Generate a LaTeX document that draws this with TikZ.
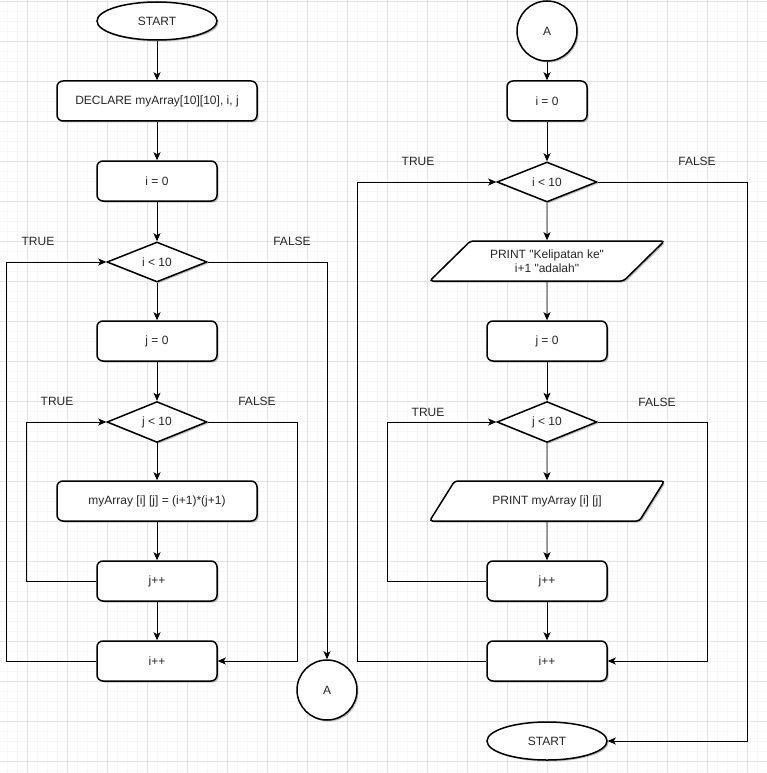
\documentclass[tikz,border=0pt]{standalone}
\usepackage{fontspec}
\setmainfont{Liberation Sans}[Ligatures=TeXOff]
\usetikzlibrary{shapes.geometric,arrows.meta,shadows}
\begin{document}
\begin{tikzpicture}[x=1pt,y=-1pt,
  fs/.style={font=\fontsize{12}{14}\selectfont, text=black!85},
  shad/.style={drop shadow={shadow xshift=1.5pt,shadow yshift=-1.5pt,opacity=0.25,fill=black}},
  box/.style={draw, line width=1.5pt, rounded corners=6pt, fill=white, minimum width=120, minimum height=40, inner sep=0pt, shad, fs},
  term/.style={ellipse, draw, line width=1.5pt, fill=white, minimum width=120, minimum height=38, inner sep=0pt, shad, fs},
  cond/.style={diamond, draw, line width=1.5pt, fill=white, minimum width=100, minimum height=40, inner sep=0pt, shad, fs},
  conn/.style={circle, draw, line width=1.5pt, fill=white, minimum size=60, inner sep=0pt, shad, fs},
  para/.style={trapezium, trapezium left angle=37, trapezium right angle=143, trapezium stretches=true, draw, line width=1.5pt, rounded corners=3pt, fill=white, minimum width=235, minimum height=40, inner sep=0pt, align=center, shad, fs},
  lbl/.style={fs, inner sep=0pt},
  arr/.style={draw, line width=0.9pt, -{Stealth[length=8pt,width=7pt,inset=2pt]}},
  minorgrid/.style={draw=black!3, line width=0.6pt},
  majorgrid/.style={draw=black!11, line width=0.6pt}
]
% background and grid
\useasboundingbox (0,0) rectangle (767,773);
\fill[white] (0,0) rectangle (767,773);
\foreach \x in {7,17,...,767} \draw[minorgrid] (\x,0) -- (\x,773);
\foreach \y in {1,11,...,771} \draw[minorgrid] (0,\y) -- (767,\y);
\foreach \x in {27,67,...,767} \draw[majorgrid] (\x,0) -- (\x,773);
\foreach \y in {1,41,...,771} \draw[majorgrid] (0,\y) -- (767,\y);

% left flow
\node[term] (s1) at (157,21) {START};
\node[box, minimum width=200] (dec) at (157,101) {DECLARE myArray[10][10], i, j};
\node[box] (i0) at (157,181) {i = 0};
\node[cond] (id) at (157,262) {i < 10};
\node[box] (j0) at (157,341) {j = 0};
\node[cond] (jd) at (157,422) {j < 10};
\node[box, minimum width=200] (asg) at (157,501) {myArray [i] [j] = (i+1)*(j+1)};
\node[box] (jpp) at (157,581) {j++};
\node[box] (ipp) at (157,661) {i++};
\node[conn] (a1) at (327,690) {A};

\node[lbl] (t1) at (38,241) {TRUE};
\node[lbl] (f1) at (292,241) {FALSE};
\node[lbl] (t2) at (57,401) {TRUE};
\node[lbl] (f2) at (257,401) {FALSE};

\draw[arr] (s1.south) -- (dec.north);
\draw[arr] (dec.south) -- (i0.north);
\draw[arr] (i0.south) -- (id.north);
\draw[arr] (id.south) -- (j0.north);
\draw[arr] (j0.south) -- (jd.north);
\draw[arr] (jd.south) -- (asg.north);
\draw[arr] (asg.south) -- (jpp.north);
\draw[arr] (jpp.south) -- (ipp.north);
\draw[arr] (jpp.west) -- ++(-70,0) |- (jd.west);
\draw[arr] (jd.east) -- ++(90,0) |- (ipp.east);
\draw[arr] (ipp.west) -- ++(-90,0) |- (id.west);
\draw[arr] (id.east) -| (a1.north);

% right flow
\node[conn] (a2) at (547,31) {A};
\node[box, minimum width=80] (ri0) at (547,101) {i = 0};
\node[cond] (rid) at (547,182) {i < 10};
\node[para] (p1) at (547,261) {PRINT "Kelipatan ke"\\ i+1 "adalah"};
\node[box] (rj0) at (547,341) {j = 0};
\node[cond] (rjd) at (547,422) {j < 10};
\node[para] (p2) at (547,501) {PRINT myArray [i] [j]};
\node[box] (rjpp) at (547,581) {j++};
\node[box] (ripp) at (547,661) {i++};
\node[term] (s2) at (547,741) {START};

\node[lbl] (t3) at (418,161) {TRUE};
\node[lbl] (f3) at (697,161) {FALSE};
\node[lbl] (t4) at (428,412) {TRUE};
\node[lbl] (f4) at (657,402) {FALSE};

\draw[arr] (a2.south) -- (ri0.north);
\draw[arr] (ri0.south) -- (rid.north);
\draw[arr] (rid.south) -- (p1.north);
\draw[arr] (p1.south) -- (rj0.north);
\draw[arr] (rj0.south) -- (rjd.north);
\draw[arr] (rjd.south) -- (p2.north);
\draw[arr] (p2.south) -- (rjpp.north);
\draw[arr] (rjpp.south) -- (ripp.north);
\draw[arr] (rjpp.west) -- ++(-99,0) |- (rjd.west);
\draw[arr] (rjd.east) -- ++(110,0) |- (ripp.east);
\draw[arr] (ripp.west) -- ++(-129,0) |- (rid.west);
\draw[arr] (rid.east) -- ++(150,0) |- (s2.east);
\end{tikzpicture}
\end{document}
